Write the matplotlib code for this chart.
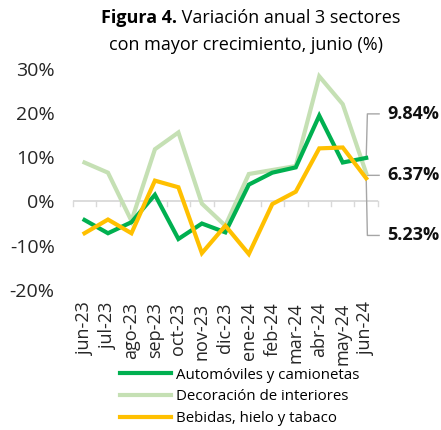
import numpy as np
import matplotlib.pyplot as plt

plt.rcParams['font.family'] = ['Open Sans', 'DejaVu Sans']

meses = ["jun-23", "jul-23", "ago-23", "sep-23", "oct-23", "nov-23", "dic-23",
         "ene-24", "feb-24", "mar-24", "abr-24", "may-24", "jun-24"]
automoviles = [-4.2, -7.2, -4.7, 1.5, -8.5, -5.0, -7.0, 3.8, 6.5, 7.7, 19.4, 8.8, 9.84]
decoracion = [8.8, 6.5, -4.4, 11.8, 15.6, -0.5, -5.5, 6.2, 7.1, 8.0, 28.3, 22.0, 6.37]
bebidas = [-7.2, -4.1, -7.2, 4.7, 3.2, -11.7, -5.5, -11.9, -0.6, 2.2, 12.0, 12.2, 5.23]

series = [
    ("Automóviles y camionetas", automoviles, "#00B050"),
    ("Decoración de interiores", decoracion, "#C5E0B4"),
    ("Bebidas, hielo y tabaco", bebidas, "#FFC000"),
]
label_y = [19.8, 5.9, -7.7]

fig = plt.figure(figsize=(4.41, 4.30), dpi=100)
ax = fig.add_axes([0.165, 0.326, 0.692, 0.514])

x = np.arange(len(meses))
# draw light green first so the darker lines sit on top
for i in [1, 0, 2]:
    name, vals, col = series[i]
    ax.plot(x, vals, color=col, lw=3.0, label=name, zorder=3 if i != 1 else 2,
            solid_joinstyle='miter')

ax.set_ylim(-20, 30)
ax.set_xlim(-0.5, len(meses) - 0.5)
ax.set_yticks(np.arange(-20, 31, 10))
ax.set_yticklabels([f"{v}%" for v in range(-20, 31, 10)], fontsize=14, color="#262626")
ax.tick_params(axis='y', length=0, pad=13)

for s in ['top', 'right', 'left', 'bottom']:
    ax.spines[s].set_visible(False)
ax.axhline(0, color="#D9D9D9", lw=1.3, zorder=1)
for b in np.arange(-0.5, len(meses), 1.0):
    ax.plot([b, b], [0, -1.0], color="#D9D9D9", lw=1.0, zorder=1, clip_on=False)

ax.set_xticks(x)
ax.set_xticklabels(meses, rotation=90, fontsize=13, color="#262626")
ax.tick_params(axis='x', length=0, pad=9)

# callout labels for last values
xe = len(meses) - 1
for (name, vals, col), ly in zip(series, label_y):
    ax.plot([xe, xe + 0.05, xe + 0.55], [vals[-1], ly, ly], color="#A6A6A6",
            lw=1.0, clip_on=False, zorder=1)
    ax.text(xe + 0.9, ly, f"{vals[-1]:.2f}%", fontsize=13, fontweight='bold',
            va='center', ha='left', color="#111111")

handles, labels = ax.get_legend_handles_labels()
order = [labels.index(s[0]) for s in series]
ax.legend([handles[i] for i in order], [labels[i] for i in order],
          loc='upper left', bbox_to_anchor=(0.135, -0.325), frameon=False,
          fontsize=10.8, handlelength=3.4, handletextpad=0.35, labelspacing=0.45,
          borderaxespad=0)

t1 = fig.text(0.228, 0.958, "Figura 4.", fontsize=13, fontweight='bold',
              ha='left', va='center')
fig.text(0.558, 0.895, "con mayor crecimiento, junio (%)", fontsize=13,
         ha='center', va='center')
fig.canvas.draw()
ax.annotate(" Variación anual 3 sectores", xy=(1, 0), xycoords=t1,
            fontsize=13, ha='left', va='bottom', annotation_clip=False)

fig.savefig("out.png", dpi=100)
